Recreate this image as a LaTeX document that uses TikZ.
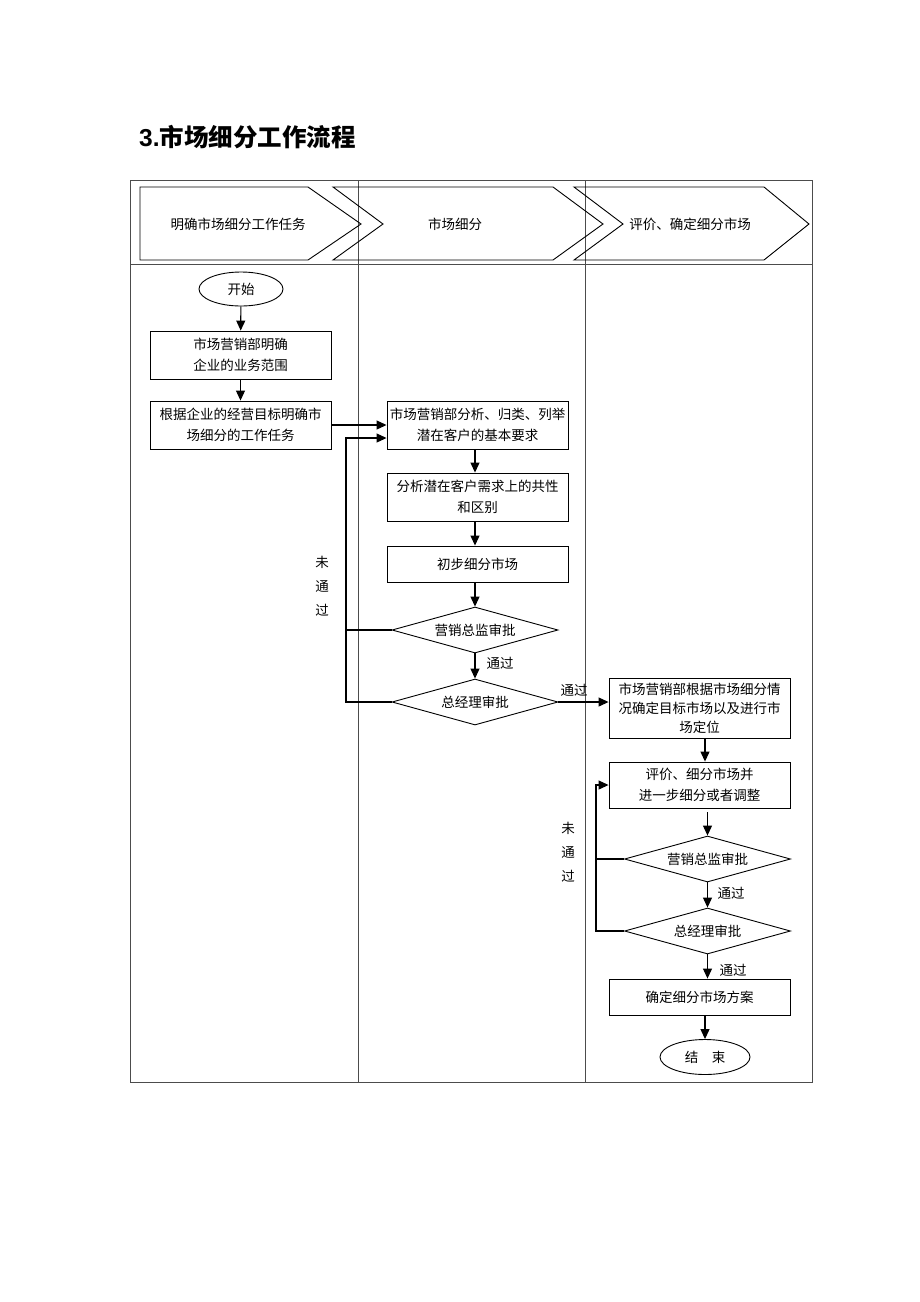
\documentclass[tikz,border=0pt]{standalone}
\usepackage{fontspec}
\setmainfont{Noto Sans CJK SC}
\newfontfamily\latinb{Liberation Sans}
\usetikzlibrary{arrows.meta,shapes.geometric}
\begin{document}
\begin{tikzpicture}[x=1pt,y=-1pt,
  every node/.style={font=\fontsize{13.5}{21}\selectfont},
  box/.style={draw, line width=0.9pt, minimum width=181pt, align=center, inner sep=0pt},
  dia/.style={draw, diamond, aspect=3.6, line width=0.9pt, minimum width=166pt, minimum height=46pt, inner sep=0pt},
  oval/.style={draw, ellipse, line width=0.9pt, inner sep=0pt},
  arr/.style={line width=1.1pt, -{Triangle[length=10pt,width=9pt]}},
  ln/.style={line width=1.1pt},
  lane/.style={draw=black!70, line width=1pt},
  chev/.style={draw, line width=0.9pt, line join=miter}]
\useasboundingbox[fill=white] (0,0) rectangle (920,1302);
% title
\node[anchor=west, font=\fontsize{24.5}{28}\selectfont\bfseries, inner sep=0pt] (title) at (139,137) {{\latinb 3.}市场细分工作流程};
% frame and lanes
\draw[lane] (130,180) rectangle (812,1082);
\draw[lane] (358,180) -- (358,1082);
\draw[lane] (585,180) -- (585,1082);
\draw[lane] (130,264) -- (812,264);
% chevrons
\draw[chev] (140,187) -- (308,187) -- (361,224) -- (308,260) -- (140,260) -- cycle;
\draw[chev] (333,187) -- (553,187) -- (603,224) -- (553,260) -- (333,260) -- (383,224) -- cycle;
\draw[chev] (574,187) -- (764,187) -- (809,224) -- (764,260) -- (574,260) -- (623,224) -- cycle;
\node (h1) at (238,224) {明确市场细分工作任务};
\node (h2) at (455,224) {市场细分};
\node (h3) at (690,224) {评价、确定细分市场};
% left lane
\node[oval, minimum width=84pt, minimum height=34pt] (start) at (241,289) {开始};
\node[box, minimum height=48pt] (b1) at (240.5,355) {市场营销部明确\\企业的业务范围};
\node[box, minimum height=48pt] (b2) at (240.5,425) {根据企业的经营目标明确市\\场细分的工作任务};
% middle lane
\node[box, minimum height=48pt] (b3) at (477.5,425) {市场营销部分析、归类、列举\\潜在客户的基本要求};
\node[box, minimum height=48pt] (b4) at (477.5,497) {分析潜在客户需求上的共性\\和区别};
\node[box, minimum height=36pt] (b5) at (477.5,564) {初步细分市场};
\node[dia] (d1) at (475,630) {营销总监审批};
\node[dia] (d2) at (475,702) {总经理审批};
% right lane
\node[box, minimum height=60pt, font=\fontsize{13.5}{19}\selectfont] (b6) at (699.5,708) {市场营销部根据市场细分情\\况确定目标市场以及进行市\\场定位};
\node[box, minimum height=46pt] (b7) at (699.5,785) {评价、细分市场并\\进一步细分或者调整};
\node[dia] (d3) at (707.5,859) {营销总监审批};
\node[dia] (d4) at (707.5,931) {总经理审批};
\node[box, minimum height=36pt] (b8) at (699.5,997) {确定细分市场方案};
\node[oval, minimum width=90pt, minimum height=35pt] (end) at (705,1057) {结\quad 束};
% labels
\node[align=center, font=\fontsize{13.5}{24}\selectfont] (n1) at (322,586) {未\\通\\过};
\node[align=center, font=\fontsize{13.5}{24}\selectfont] (n2) at (568,852) {未\\通\\过};
\node (p1) at (500,663) {通过};
\node (p2) at (574,690) {通过};
\node (p3) at (731,893) {通过};
\node (p4) at (733,970) {通过};
% connectors left/middle
\draw[arr] (start) -- (b1);
\draw[arr] (b1) -- (b2);
\draw[arr] (b2.east) -- (b2.east -| b3.west);
\draw[arr] (b3.south -| d1.north) -- (b4.north -| d1.north);
\draw[arr] (b4.south -| d1.north) -- (b5.north -| d1.north);
\draw[arr] (b5.south -| d1.north) -- (d1.north);
\draw[arr] (d1) -- (d2);
\coordinate (fb1) at (346,630);
\draw[ln] (d1.west) -- (fb1);
\draw[arr] (d2.west) -- (346,702) |- ([yshift=-13pt]b3.west);
\draw[arr] (d2.east) -- (d2.east -| b6.west);
% connectors right
\draw[arr] (b6.south -| end.north) -- (b7.north -| end.north);
\draw[arr] ([yshift=-4pt]b7.south -| d3.north) -- (d3.north);
\draw[arr] (d3) -- (d4);
\draw[arr] (d4.south) -- (b8.north -| d4.south);
\draw[arr] (b8.south -| end.north) -- (end.north);
\coordinate (fb2) at (596,859);
\draw[ln] (d3.west) -- (fb2);
\draw[arr] (d4.west) -- (596,931) |- (b7.west);
\end{tikzpicture}
\end{document}
